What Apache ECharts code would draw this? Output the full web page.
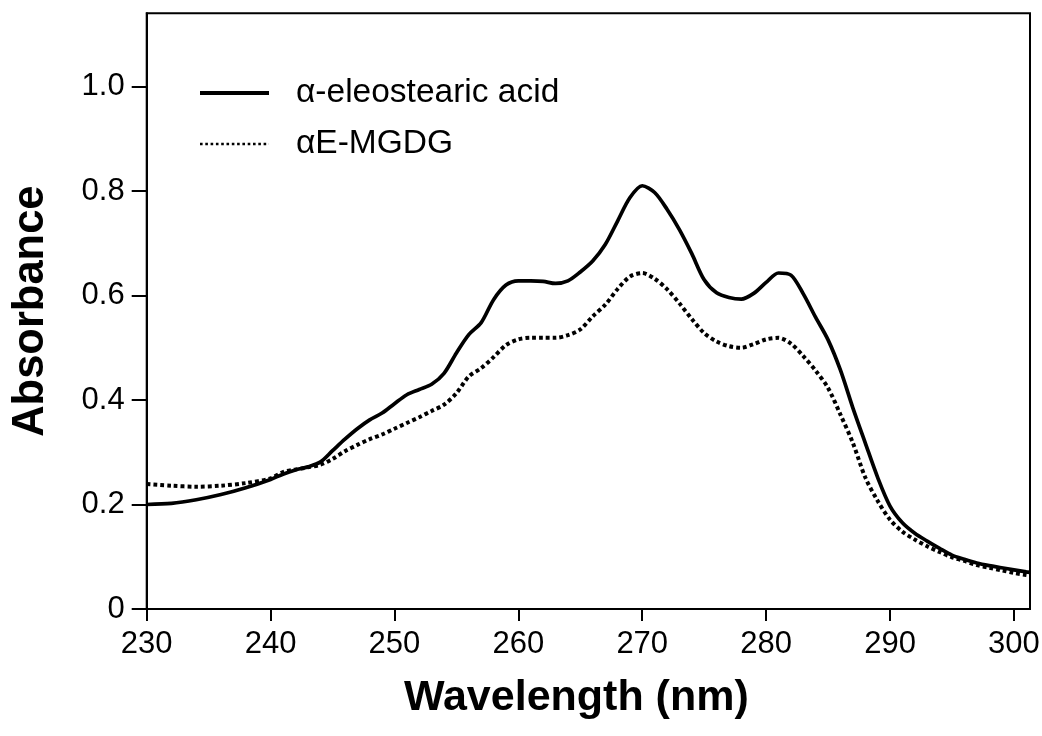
<!DOCTYPE html>
<html>
<head>
<meta charset="utf-8">
<script src="https://cdn.jsdelivr.net/npm/echarts@6/dist/echarts.min.js"></script>
<style>
html,body{margin:0;padding:0;background:#fff;}
#chart{width:1042px;height:736px;}
</style>
</head>
<body>
<div id="chart"></div>
<script>
const wavelengths = [230,232,234,236,238,240,241,242,243,244,245,246,247,248,249,250,251,252,253,254,255,256,257,258,259,260,261,262,263,264,265,266,267,268,269,270,271,272,273,274,275,276,277,278,279,280,281,282,283,284,285,286,287,288,289,290,291,292,293,294,295,296,297,298,299,300,301,301.3];
const eleostearicAcid = [0.200,0.202,0.209,0.219,0.232,0.248,0.258,0.266,0.272,0.281,0.303,0.325,0.345,0.362,0.375,0.393,0.410,0.420,0.430,0.451,0.490,0.525,0.548,0.592,0.620,0.628,0.628,0.627,0.623,0.628,0.645,0.666,0.697,0.742,0.787,0.810,0.797,0.765,0.726,0.680,0.630,0.605,0.596,0.593,0.604,0.625,0.643,0.639,0.603,0.558,0.515,0.457,0.385,0.318,0.252,0.197,0.165,0.145,0.130,0.116,0.103,0.095,0.088,0.083,0.079,0.075,0.071,0.070];
const aeMGDG = [0.239,0.236,0.234,0.236,0.241,0.250,0.262,0.267,0.271,0.276,0.287,0.302,0.314,0.325,0.334,0.345,0.356,0.367,0.379,0.391,0.413,0.445,0.461,0.482,0.505,0.516,0.519,0.519,0.519,0.524,0.535,0.560,0.582,0.612,0.636,0.643,0.632,0.612,0.585,0.555,0.528,0.512,0.503,0.500,0.507,0.516,0.519,0.508,0.484,0.456,0.423,0.372,0.318,0.252,0.207,0.171,0.148,0.133,0.120,0.109,0.099,0.092,0.084,0.079,0.074,0.069,0.065,0.064];
const xTicks = [230,240,250,260,270,280,290,300];
const yTicks = [0,0.2,0.4,0.6,0.8,1.0];
const seriesNames = ['\u03b1-eleostearic acid','\u03b1E-MGDG'];

const FONT = '"Liberation Sans", Arial, Helvetica, sans-serif';
const chart = echarts.init(document.getElementById('chart'));
const pairs = vals => wavelengths.map((w,i)=>[w, vals[i]]);

chart.setOption({
  animation:false,
  backgroundColor:'#fff',
  textStyle:{fontFamily:FONT, color:'#000'},
  grid:{left:146.7, right:12, top:13.3, bottom:127, show:true, borderColor:'#000', borderWidth:2, outerBoundsMode:'none', containLabel:false},
  legend:{
    orient:'vertical', left:198, top:76, padding:0, itemWidth:69, itemHeight:14, itemGap:17,
    itemStyle:{opacity:0, color:'rgba(0,0,0,0)', borderWidth:0},
    textStyle:{fontSize:33.5, fontFamily:FONT, color:'#000', padding:[0,0,0,22]},
    data:[
      {name:seriesNames[0], itemStyle:{opacity:0}, lineStyle:{color:'#000', width:4, type:'solid'}},
      {name:seriesNames[1], itemStyle:{opacity:0}, lineStyle:{color:'#000', width:2.6, type:[2.6,2.7], cap:'butt'}}
    ]
  },
  xAxis:{
    type:'value', min:230, max:301.3,
    axisLine:{show:true, onZero:false, lineStyle:{color:'#000', width:2}},
    axisTick:{show:true, length:12, inside:false, customValues:xTicks, lineStyle:{color:'#000', width:2}},
    axisLabel:{show:true, customValues:xTicks, margin:20, fontSize:31, color:'#000', fontFamily:FONT},
    splitLine:{show:false},
    name:'Wavelength (nm)', nameLocation:'middle', nameGap:68,
    nameTextStyle:{fontSize:43, fontWeight:'bold', color:'#000', fontFamily:FONT, padding:[0,24,0,0]}
  },
  yAxis:{
    type:'value', min:0, max:1.14,
    axisLine:{show:true, onZero:false, lineStyle:{color:'#000', width:2}},
    axisTick:{show:true, length:15, inside:false, customValues:yTicks, lineStyle:{color:'#000', width:2}},
    axisLabel:{show:true, customValues:yTicks, margin:22, fontSize:31, color:'#000', fontFamily:FONT,
      formatter: v => v===0 ? '0' : v.toFixed(1)},
    splitLine:{show:false},
    name:'Absorbance', nameLocation:'middle', nameGap:94,
    nameTextStyle:{fontSize:43.5, fontWeight:'bold', color:'#000', fontFamily:FONT}
  },
  series:[
    {name:seriesNames[0], type:'line', data:pairs(eleostearicAcid), smooth:0.3, symbol:'none', showSymbol:false,
      lineStyle:{color:'#000', width:3.7, type:'solid'}, itemStyle:{color:'#000'}},
    {name:seriesNames[1], type:'line', data:pairs(aeMGDG), smooth:0.3, symbol:'none', showSymbol:false,
      lineStyle:{color:'#000', width:4, type:[3.8,3.0], cap:'butt'}, itemStyle:{color:'#000'}}
  ]
});
</script>
</body>
</html>
